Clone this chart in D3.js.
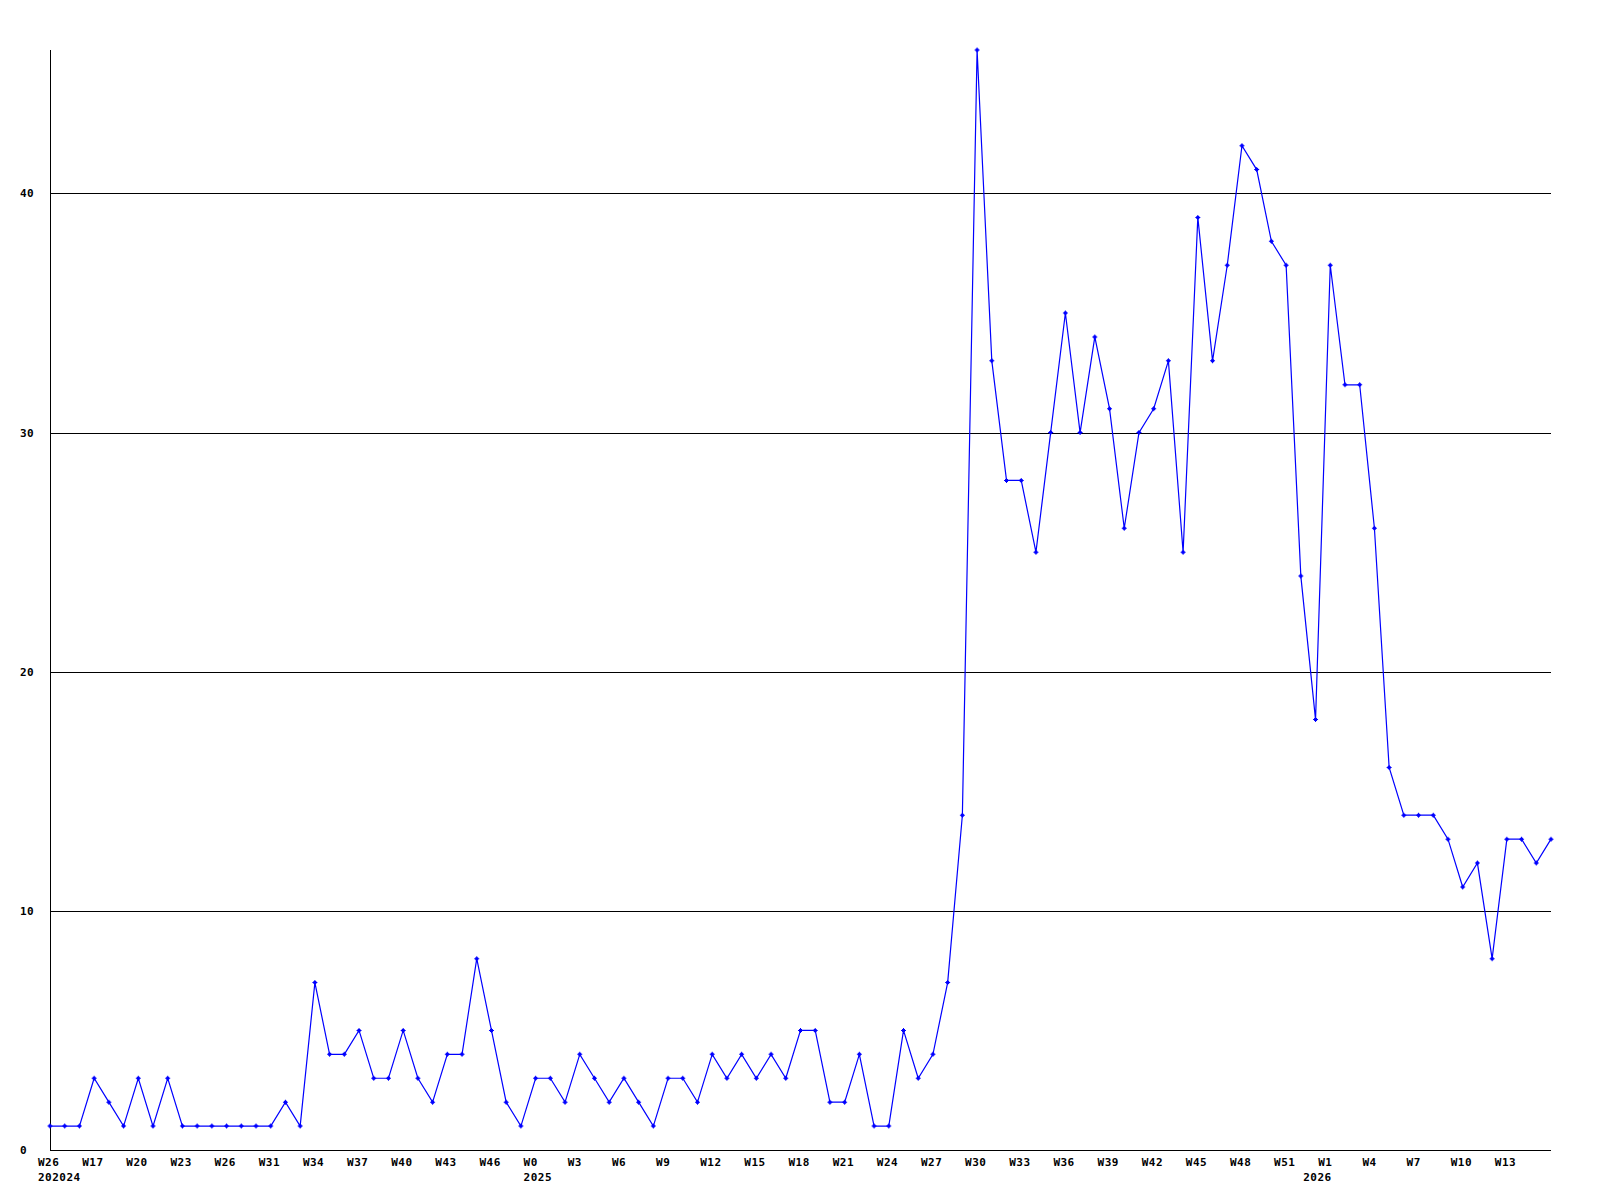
<!DOCTYPE html>
<html>
<head>
<meta charset="utf-8">
<script src="https://cdn.jsdelivr.net/npm/d3@7"></script>
<style>
  html, body { margin: 0; padding: 0; background: #fff; }
  svg { display: block; }
  text { font-family: "DejaVu Sans Mono", "Liberation Mono", monospace; font-weight: bold; font-size: 11px; letter-spacing: 0.5px; fill: #000; }
</style>
</head>
<body>
<svg id="chart" width="1600" height="1200"></svg>
<script>
// ---- data ----
const values = [
  1, 1, 1, 3, 2, 1, 3, 1, 3, 1,
  1, 1, 1, 1, 1, 1, 2, 1, 7, 4,
  4, 5, 3, 3, 5, 3, 2, 4, 4, 8,
  5, 2, 1, 3, 3, 2, 4, 3, 2, 3,
  2, 1, 3, 3, 2, 4, 3, 4, 3, 4,
  3, 5, 5, 2, 2, 4, 1, 1, 5, 3,
  4, 7, 14, 46, 33, 28, 28, 25, 30, 35,
  30, 34, 31, 26, 30, 31, 33, 25, 39, 33,
  37, 42, 41, 38, 37, 24, 18, 37, 32, 32,
  26, 16, 14, 14, 14, 13, 11, 12, 8, 13,
  13, 12, 13
];
const tickLabels = [
  "W26", "W17", "W20", "W23", "W26", "W31", "W34", "W37", "W40", "W43",
  "W46", "W0", "W3", "W6", "W9", "W12", "W15", "W18", "W21", "W24",
  "W27", "W30", "W33", "W36", "W39", "W42", "W45", "W48", "W51", "W1",
  "W4", "W7", "W10", "W13"
];
const tickEvery = 3;
const yearLabels = ["202024", "2025", "2026"];
const yearTickIndex = [0, 11, 29];
const yTicks = [0, 10, 20, 30, 40];

// ---- layout ----
const mLeft = 50, mRight = 1551, mTop = 50, mBottom = 1150;
const svg = d3.select("#chart");

const x = d3.scaleLinear().domain([0, values.length - 1]).range([mLeft, mRight]);
const y = d3.scaleLinear().domain([0, 46]).range([mBottom, mTop]);

// grid lines
svg.append("g").selectAll("line")
  .data(yTicks.filter(d => d > 0))
  .join("line")
  .attr("x1", mLeft).attr("x2", mRight)
  .attr("y1", d => Math.round(y(d)) + 0.5).attr("y2", d => Math.round(y(d)) + 0.5)
  .attr("stroke", "#000").attr("stroke-width", 1)
  .attr("shape-rendering", "crispEdges");

// axes lines
svg.append("line")
  .attr("x1", mLeft + 0.5).attr("x2", mLeft + 0.5)
  .attr("y1", mTop).attr("y2", mBottom + 0.5)
  .attr("stroke", "#000").attr("shape-rendering", "crispEdges");
svg.append("line")
  .attr("x1", mLeft).attr("x2", mRight)
  .attr("y1", mBottom + 0.5).attr("y2", mBottom + 0.5)
  .attr("stroke", "#000").attr("shape-rendering", "crispEdges");

// y labels
svg.append("g").selectAll("text")
  .data(yTicks)
  .join("text")
  .attr("x", 20)
  .attr("y", d => y(d) + 4)
  .text(d => d);

// x labels
const tickIdx = tickLabels.map((t, i) => i * tickEvery);
svg.append("g").selectAll("text")
  .data(tickLabels)
  .join("text")
  .attr("x", (d, i) => x(tickIdx[i]) - 12)
  .attr("y", 1166)
  .text(d => d);

svg.append("g").selectAll("text")
  .data(yearLabels)
  .join("text")
  .attr("x", (d, i) => x(tickIdx[yearTickIndex[i]]) - 12 - (i === 2 ? 15 : 0))
  .attr("y", 1181)
  .text(d => d);

// line
const line = d3.line()
  .x((d, i) => x(i))
  .y(d => y(d));

svg.append("path")
  .datum(values)
  .attr("d", line)
  .attr("fill", "none")
  .attr("stroke", "#0000ff")
  .attr("stroke-width", 1.2);

// markers (small plus)
svg.append("g").selectAll("path")
  .data(values)
  .join("path")
  .attr("transform", (d, i) => `translate(${x(i)},${y(d)})`)
  .attr("d", "M-0.5,-2.5H0.5V-0.5H2.5V0.5H0.5V2.5H-0.5V0.5H-2.5V-0.5H-0.5Z M-1.5,-1.5H1.5V1.5H-1.5Z")
  .attr("fill", "#0000ff");
</script>
</body>
</html>
